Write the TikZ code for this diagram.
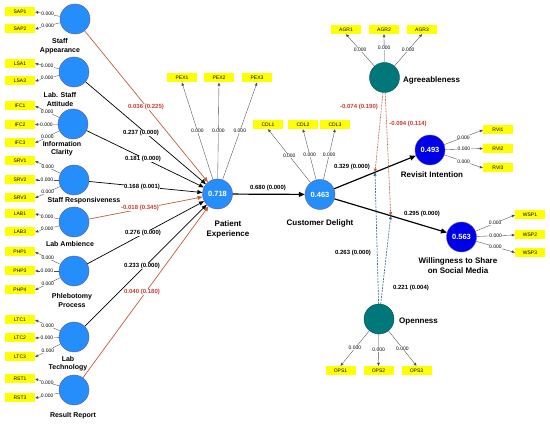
\documentclass[tikz,border=0pt]{standalone}
\usepackage{fontspec}
\setmainfont{Liberation Sans}
\usetikzlibrary{arrows.meta,calc}
\definecolor{cblue}{RGB}{38,142,250}
\definecolor{cedge}{RGB}{95,85,185}
\definecolor{dblue}{RGB}{0,0,232}
\definecolor{cteal}{RGB}{0,120,122}
\definecolor{cyel}{RGB}{255,255,0}
\definecolor{pred}{RGB}{190,95,60}
\definecolor{tred}{RGB}{205,60,50}
\definecolor{mteal}{RGB}{45,108,135}
\begin{document}
\begin{tikzpicture}[x=1pt,y=-1pt,
  lv/.style={circle,draw=cedge,line width=0.4pt,fill=cblue,minimum size=30pt,inner sep=0pt,text=white,font=\bfseries\fontsize{7.5}{8}\selectfont},
  lvd/.style={lv,fill=dblue},
  lvt/.style={lv,fill=cteal,draw=cteal!70!black},
  ind/.style={fill=cyel,minimum width=30pt,minimum height=9pt,inner sep=0pt,font=\fontsize{5}{5}\selectfont},
  load/.style={draw=black!70,line width=0.35pt,-{Triangle[length=3pt,width=2.6pt]}},
  ld/.style={fill=white,inner sep=0.3pt,font=\fontsize{5}{5}\selectfont},
  pth/.style={line width=0.7pt,-{Triangle[length=5pt,width=4pt]}},
  pthk/.style={line width=1.2pt,-{Triangle[length=6pt,width=5pt]}},
  coef/.style={fill=white,inner sep=0.4pt,font=\bfseries\fontsize{6}{7}\selectfont},
  coefr/.style={coef,text=tred},
  lname/.style={font=\bfseries\fontsize{7}{8.5}\selectfont,align=center,inner sep=0pt},
  rname/.style={font=\bfseries\fontsize{8}{10}\selectfont,align=center,inner sep=0pt},
  modr/.style={draw=pred,line width=0.6pt,dash pattern=on 2pt off 1pt,-{Triangle[length=3.5pt,width=3pt]}},
  modb/.style={draw=mteal,line width=0.6pt,dash pattern=on 2pt off 1pt,-{Triangle[length=3.5pt,width=3pt]}}
]
\useasboundingbox (0,0) rectangle (550,425);
\fill[white] (0,0) rectangle (550,425);

% left constructs
\node[lv] (SA)  at (75,19) {};
\node[lv] (LSA) at (74,72) {};
\node[lv] (IFC) at (73,124) {};
\node[lv] (SRV) at (74,180) {};
\node[lv] (LAB) at (74,222) {};
\node[lv] (PHP) at (74,271) {};
\node[lv] (LTC) at (74,337) {};
\node[lv] (RST) at (74,390) {};

\node[lname] (nSA)  at (60,46) {Staff\\Appearance};
\node[lname] (nLSA) at (60,99.5) {Lab. Staff\\Attitude};
\node[lname] (nIFC) at (62,148.5) {Information\\Clarity};
\node[lname] (nSRV) at (84,201) {Staff Responsiveness};
\node[lname] (nLAB) at (70,244) {Lab Ambience};
\node[lname] (nPHP) at (72,300.5) {Phlebotomy\\Process};
\node[lname] (nLTC) at (68,363.5) {Lab\\Technology};
\node[lname] (nRST) at (73,416) {Result Report};

% left indicators
\foreach \n/\y in {SAP1/12,SAP2/29,LSA1/63.5,LSA3/81,IFC1/106,IFC2/124.5,IFC3/143,SRV1/161,SRV2/180,SRV3/198,LAB1/214,LAB3/232,PHP1/252,PHP3/271,PHP4/290,LTC1/320,LTC2/338,LTC3/357,RST1/379,RST3/398}
  \node[ind] (\n) at (20,\y) {\n};

\foreach \c/\i in {SA/SAP1,SA/SAP2,LSA/LSA1,LSA/LSA3,IFC/IFC1,IFC/IFC2,IFC/IFC3,SRV/SRV1,SRV/SRV2,SRV/SRV3,LAB/LAB1,LAB/LAB3,PHP/PHP1,PHP/PHP3,PHP/PHP4,LTC/LTC1,LTC/LTC2,LTC/LTC3,RST/RST1,RST/RST3}
  \draw[load] (\c) -- (\i.east) node[ld,midway] {0.000};

% central constructs
\node[lv] (PE) at (217.5,194) {0.718};
\node[lv] (CD) at (320,194.5) {0.463};
\node[lvt] (AGR) at (384.5,77.5) {};
\node[lvt] (OPN) at (379,319) {};
\node[lvd] (RI) at (430,150) {0.493};
\node[lvd] (WSP) at (461.5,237) {0.563};

\node[rname] (nPE) at (228,229) {Patient\\Experience};
\node[rname] (nCD) at (320,223) {Customer Delight};
\node[rname,anchor=west] (nAGR) at (403,80) {Agreeableness};
\node[rname,anchor=west] (nOPN) at (399,322) {Openness};
\node[rname] (nRI) at (432,175) {Revisit Intention};
\node[rname] (nWSP) at (458,266) {Willingness to Share\\on Social Media};

% indicators of central constructs
\node[ind] (PEX1) at (182,78) {PEX1};
\node[ind] (PEX2) at (219,78) {PEX2};
\node[ind] (PEX3) at (257,78) {PEX3};
\node[ind] (CDL1) at (268,124.5) {CDL1};
\node[ind] (CDL2) at (303,124.5) {CDL2};
\node[ind] (CDL3) at (335,124.5) {CDL3};
\node[ind] (AGR1) at (346,29.5) {AGR1};
\node[ind] (AGR2) at (384,29.5) {AGR2};
\node[ind] (AGR3) at (422,29.5) {AGR3};
\node[ind] (OPS1) at (340.5,370.5) {OPS1};
\node[ind] (OPS2) at (378.5,370.5) {OPS2};
\node[ind] (OPS3) at (416.5,370.5) {OPS3};
\node[ind] (RVI1) at (498,130) {RVI1};
\node[ind] (RVI2) at (498,148.5) {RVI2};
\node[ind] (RVI3) at (498,168) {RVI3};
\node[ind] (WSP1) at (530,215) {WSP1};
\node[ind] (WSP2) at (530,235) {WSP2};
\node[ind] (WSP3) at (530,252.5) {WSP3};

\foreach \i in {PEX1,PEX2,PEX3}
  \draw[load] (PE) -- (\i.south) node[ld,midway] {0.000};
\foreach \i in {CDL1,CDL2,CDL3}
  \draw[load] (CD) -- (\i.south) node[ld,midway] {0.000};
\foreach \i in {AGR1,AGR2,AGR3}
  \draw[load] (AGR) -- (\i.south) node[ld,midway] {0.000};
\foreach \i in {OPS1,OPS2,OPS3}
  \draw[load] (OPN) -- (\i.north) node[ld,midway] {0.000};
\foreach \i in {RVI1,RVI2,RVI3}
  \draw[load] (RI) -- (\i.west) node[ld,midway] {0.000};
\foreach \i in {WSP1,WSP2,WSP3}
  \draw[load] (WSP) -- (\i.west) node[ld,midway] {0.000};

% structural paths
\draw[pth,pred] (SA) -- (PE);
\draw[pth] (LSA) -- (PE);
\draw[pth] (IFC) -- (PE);
\draw[pth] (SRV) -- (PE);
\draw[pth,pred] (LAB) -- (PE);
\draw[pth] (PHP) -- (PE);
\draw[pth] (LTC) -- (PE);
\draw[pth,pred] (RST) -- (PE);
\draw[pthk] (PE) -- (CD);
\draw[pthk] (CD) -- (RI);
\draw[pthk] (CD) -- (WSP);

% moderating effects
\coordinate (m1) at ($(CD)!0.5!(RI)$);
\coordinate (m2) at ($(CD)!0.5!(WSP)$);
\draw[modr] (AGR) -- (m1);
\draw[modr] (AGR) -- (m2);
\draw[modb] (OPN) -- (m1);
\draw[modb] (OPN) -- (m2);

% coefficients
\node[coefr] (c1) at (146,107) {0.036 (0.225)};
\node[coef]  (c2) at (141,133) {0.237 (0.000)};
\node[coef]  (c3) at (143,159) {0.181 (0.000)};
\node[coef]  (c4) at (142,187) {0.168 (0.001)};
\node[coefr] (c5) at (140,208) {-0.018 (0.345)};
\node[coef]  (c6) at (143,233) {0.276 (0.000)};
\node[coef]  (c7) at (142,266) {0.233 (0.000)};
\node[coefr] (c8) at (142,292) {0.040 (0.180)};
\node[coef]  (c9) at (268,188) {0.680 (0.000)};
\node[coef]  (c10) at (352,167) {0.329 (0.000)};
\node[coef]  (c11) at (422,214) {0.295 (0.000)};
\node[coef]  (c12) at (353,253) {0.263 (0.000)};
\node[coef]  (c13) at (411,288) {0.221 (0.004)};
\node[coefr] (c14) at (359,107) {-0.074 (0.190)};
\node[coefr] (c15) at (408,124) {-0.094 (0.114)};
\end{tikzpicture}
\end{document}
